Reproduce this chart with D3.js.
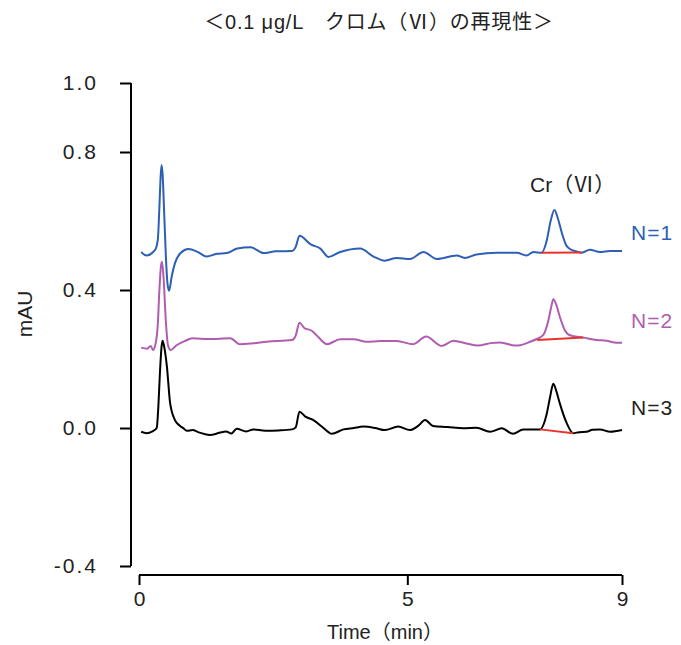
<!DOCTYPE html>
<html>
<head>
<meta charset="utf-8">
<script src="https://cdn.jsdelivr.net/npm/d3@7/dist/d3.min.js"></script>
<style>
    body { margin: 0; background: #fff; }
    svg text { font-family: "Liberation Sans", "Noto Sans CJK JP", sans-serif; fill: #222; }
    .cjk { font-family: "Noto Sans CJK JP", sans-serif; }
</style>
</head>
<body>
<div id="chart"></div>
<script>
// time (min), absorbance (mAU)
var series1 = [
    [0.04,0.510],[0.14,0.500],[0.30,0.516],[0.35,0.545],[0.38,0.640],[0.40,0.720],[0.42,0.762],[0.44,0.735],
    [0.47,0.620],[0.50,0.500],[0.53,0.420],[0.56,0.398],[0.61,0.440],[0.67,0.478],[0.78,0.508],[0.92,0.519],
    [1.10,0.510],[1.26,0.497],[1.45,0.505],[1.63,0.507],[1.83,0.520],[2.08,0.524],[2.32,0.507],[2.55,0.512],
    [2.85,0.513],[2.92,0.525],[2.99,0.557],[3.20,0.532],[3.38,0.520],[3.53,0.496],[3.75,0.510],[4.12,0.520],
    [4.37,0.497],[4.58,0.485],[4.80,0.493],[5.05,0.490],[5.30,0.510],[5.55,0.490],[5.92,0.500],[6.07,0.493],
    [6.29,0.503],[6.66,0.508],[7.04,0.508],[7.22,0.500],[7.35,0.510],[7.50,0.508],[7.60,0.545],[7.67,0.600],
    [7.74,0.632],[7.81,0.605],[7.88,0.565],[7.96,0.530],[8.03,0.519],[8.15,0.512],[8.25,0.508],[8.40,0.517],
    [8.59,0.510],[8.78,0.513],[9.00,0.513]
];
var series2 = [
    [0.04,0.233],[0.15,0.230],[0.22,0.238],[0.26,0.226],[0.31,0.245],[0.35,0.300],[0.38,0.400],[0.41,0.470],
    [0.43,0.482],[0.46,0.430],[0.50,0.310],[0.54,0.240],[0.59,0.226],[0.70,0.240],[0.85,0.252],[1.00,0.260],
    [1.30,0.258],[1.70,0.260],[1.88,0.243],[2.10,0.245],[2.38,0.250],[2.85,0.255],[2.92,0.268],[2.99,0.305],
    [3.08,0.290],[3.22,0.282],[3.35,0.262],[3.50,0.243],[3.75,0.257],[4.00,0.257],[4.24,0.250],[4.50,0.252],
    [4.80,0.252],[5.11,0.243],[5.35,0.265],[5.64,0.238],[5.86,0.253],[6.10,0.245],[6.32,0.239],[6.55,0.246],
    [6.73,0.248],[7.01,0.239],[7.10,0.240],[7.29,0.250],[7.41,0.258],[7.53,0.269],[7.63,0.313],[7.68,0.350],
    [7.72,0.373],[7.78,0.355],[7.84,0.323],[7.93,0.285],[8.03,0.269],[8.28,0.262],[8.53,0.255],[8.71,0.253],
    [8.90,0.247],[9.00,0.247]
];
var series3 = [
    [0.04,-0.011],[0.14,-0.015],[0.25,-0.010],[0.33,0.000],[0.36,0.060],[0.39,0.160],[0.42,0.235],[0.44,0.253],
    [0.47,0.235],[0.52,0.178],[0.58,0.072],[0.67,0.023],[0.75,0.008],[0.83,-0.001],[0.89,-0.008],[1.00,-0.006],
    [1.10,-0.012],[1.32,-0.020],[1.50,-0.014],[1.62,-0.010],[1.72,-0.016],[1.82,-0.002],[2.00,-0.010],[2.13,-0.004],
    [2.35,-0.008],[2.60,-0.007],[2.85,-0.004],[2.92,0.002],[2.99,0.047],[3.10,0.033],[3.25,0.023],[3.40,0.005],
    [3.53,-0.012],[3.59,-0.017],[3.81,-0.004],[4.00,0.000],[4.18,0.004],[4.40,0.000],[4.58,-0.006],[4.83,0.004],
    [5.05,-0.006],[5.20,0.006],[5.33,0.023],[5.48,0.006],[5.75,0.003],[6.04,-0.001],[6.29,0.001],[6.54,-0.011],
    [6.76,-0.001],[6.97,-0.017],[7.16,-0.004],[7.35,-0.004],[7.47,-0.004],[7.60,0.043],[7.66,0.090],[7.72,0.128],
    [7.78,0.105],[7.84,0.072],[7.97,0.014],[8.09,-0.015],[8.20,-0.012],[8.34,-0.011],[8.45,-0.005],[8.59,-0.004],
    [8.78,-0.011],[9.00,-0.006]
];
// peak baselines under Cr(VI)
var baselines = [
    [[7.50,0.508],[8.25,0.509]],
    [[7.42,0.255],[8.28,0.262]],
    [[7.47,-0.004],[8.09,-0.015]]
];
var seriesNames = ['N=1', 'N=2', 'N=3'];
var seriesColors = ['#2d5fb4', '#b05db0', '#000000'];
var labelValues = [0.545, 0.29, 0.038];
var xTicks = [0, 5, 9];
var yTicks = [1.0, 0.8, 0.4, 0.0, -0.4];

(function () {
    var width = 681, height = 645;
    var fs = '21px';
    var svg = d3.select('#chart').append('svg')
        .attr('width', width)
        .attr('height', height);

    var x = d3.scaleLinear().domain([0, 9]).range([139, 622]);
    var y = d3.scaleLinear().domain([-0.4, 1.0]).range([566, 83]);

    // title
    var title = svg.append('text')
        .attr('x', 379).attr('y', 29)
        .attr('text-anchor', 'middle')
        .style('font-size', '20px')
        .style('letter-spacing', '0.8px');
    title.append('tspan').attr('class', 'cjk').text('＜');
    title.append('tspan').text('0.1 μg/L\u2003');
    title.append('tspan').attr('class', 'cjk').text('クロム（Ⅵ）の再現性＞');

    // y axis
    var yAxis = svg.append('g')
        .attr('transform', 'translate(131,0)')
        .call(d3.axisLeft(y).tickValues(yTicks)
            .tickFormat(function (d) { return d3.format('.1f')(d).replace('−', '-'); })
            .tickSize(11).tickPadding(22).tickSizeOuter(0));
    yAxis.select('.domain').attr('stroke-width', 2).attr('d', 'M0,' + y(1.0) + 'V' + y(-0.4));
    yAxis.selectAll('.tick line').attr('stroke-width', 2);
    yAxis.selectAll('.tick text').style('font-size', fs).style('letter-spacing', '2px').attr('fill', '#222');

    // x axis
    var xAxis = svg.append('g')
        .attr('transform', 'translate(0,575)')
        .call(d3.axisBottom(x).tickValues(xTicks).tickSize(10).tickPadding(6).tickSizeOuter(0));
    xAxis.select('.domain').attr('stroke-width', 2).attr('d', 'M' + x(0) + ',0H' + x(9));
    xAxis.selectAll('.tick line').attr('stroke-width', 2);
    xAxis.selectAll('.tick text').style('font-size', fs).attr('fill', '#222');

    var xLabel = svg.append('text')
        .attr('x', 385).attr('y', 639)
        .attr('text-anchor', 'middle')
        .style('font-size', '20px');
    xLabel.append('tspan').text('Time');
    xLabel.append('tspan').attr('class', 'cjk').text('（');
    xLabel.append('tspan').text('min');
    xLabel.append('tspan').attr('class', 'cjk').text('）');

    svg.append('text')
        .attr('transform', 'translate(32,' + 314 + ') rotate(-90)')
        .attr('text-anchor', 'middle')
        .style('font-size', fs)
        .text('mAU');

    var line = d3.line()
        .x(function (d) { return x(d[0]); })
        .y(function (d) { return y(d[1]); })
        .curve(d3.curveMonotoneX);

    [series1, series2, series3].forEach(function (s, i) {
        svg.append('path')
            .datum(s)
            .attr('d', line)
            .attr('fill', 'none')
            .attr('stroke', seriesColors[i])
            .attr('stroke-width', 2)
            .attr('stroke-linejoin', 'round');

        svg.append('text')
            .attr('x', 631).attr('y', y(labelValues[i]))
            .style('font-size', fs)
            .style('letter-spacing', '1px')
            .style('fill', seriesColors[i] === '#000000' ? '#222' : seriesColors[i])
            .text(seriesNames[i]);
    });

    baselines.forEach(function (b) {
        svg.append('path')
            .datum(b)
            .attr('d', d3.line().x(function (d) { return x(d[0]); }).y(function (d) { return y(d[1]); }))
            .attr('stroke', '#e8332d')
            .attr('stroke-width', 2);
    });

    var cr = svg.append('text')
        .attr('x', x(8.08)).attr('y', y(0.684))
        .attr('text-anchor', 'middle')
        .style('font-size', fs);
    cr.append('tspan').text('Cr');
    cr.append('tspan').attr('class', 'cjk').text('（Ⅵ）');
})();
</script>
</body>
</html>
